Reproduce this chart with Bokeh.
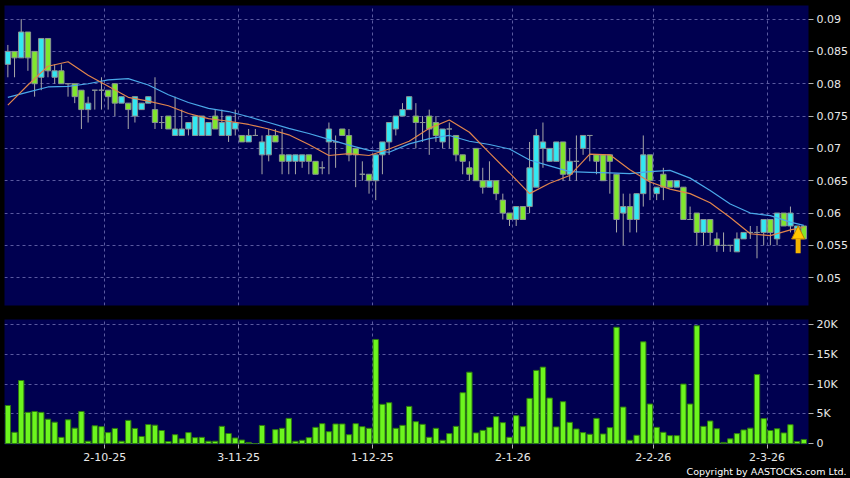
from bokeh.plotting import figure
from bokeh.layouts import column
from bokeh.models import ColumnDataSource, FixedTicker, Range1d, Title, Arrow, NormalHead
from bokeh.embed import file_html
from bokeh.resources import INLINE

# ---------------- data ----------------
tick_candles = [15, 35, 55, 76, 97, 114]
tick_labels = ["2-10-25", "3-11-25", "1-12-25", "2-1-26", "2-2-26", "2-3-26"]

opens = [0.083, 0.085, 0.084, 0.088, 0.085, 0.081, 0.087, 0.081, 0.082, 0.080,
         0.080, 0.079, 0.076, 0.079, 0.079, 0.079, 0.080, 0.077, 0.077, 0.075,
         0.076, 0.077, 0.076, 0.074, 0.075, 0.072, 0.072, 0.073, 0.072, 0.072,
         0.072, 0.075, 0.072, 0.072, 0.073, 0.072, 0.071, 0.072, 0.069, 0.069,
         0.072, 0.069, 0.068, 0.068, 0.068, 0.069, 0.068, 0.067, 0.071, 0.071,
         0.073, 0.072, 0.070, 0.066, 0.066, 0.065, 0.069, 0.071, 0.073, 0.075,
         0.076, 0.075, 0.074, 0.075, 0.074, 0.071, 0.073, 0.072, 0.069, 0.067,
         0.070, 0.065, 0.064, 0.065, 0.062, 0.060, 0.059, 0.061, 0.061, 0.064,
         0.070, 0.068, 0.068, 0.071, 0.066, 0.068, 0.070, 0.072, 0.069, 0.069,
         0.069, 0.066, 0.060, 0.061, 0.059, 0.063, 0.069, 0.063, 0.066, 0.065,
         0.064, 0.064, 0.059, 0.060, 0.057, 0.059, 0.056, 0.055, 0.055, 0.054,
         0.056, 0.057, 0.057, 0.057, 0.059, 0.056, 0.060, 0.058, 0.057, 0.058]

highs = [0.086, 0.085, 0.090, 0.088, 0.085, 0.087, 0.087, 0.083, 0.083, 0.080,
         0.080, 0.079, 0.078, 0.079, 0.081, 0.079, 0.080, 0.078, 0.077, 0.078,
         0.077, 0.078, 0.081, 0.075, 0.075, 0.078, 0.076, 0.074, 0.075, 0.075,
         0.074, 0.076, 0.076, 0.075, 0.076, 0.072, 0.073, 0.073, 0.072, 0.073,
         0.073, 0.073, 0.069, 0.069, 0.069, 0.069, 0.068, 0.068, 0.074, 0.072,
         0.073, 0.073, 0.070, 0.068, 0.066, 0.069, 0.071, 0.074, 0.075, 0.077,
         0.078, 0.077, 0.075, 0.076, 0.075, 0.073, 0.074, 0.072, 0.069, 0.068,
         0.070, 0.067, 0.068, 0.065, 0.063, 0.060, 0.061, 0.061, 0.071, 0.073,
         0.074, 0.070, 0.071, 0.071, 0.070, 0.072, 0.072, 0.072, 0.069, 0.069,
         0.069, 0.066, 0.063, 0.063, 0.063, 0.072, 0.069, 0.064, 0.067, 0.065,
         0.065, 0.064, 0.061, 0.060, 0.059, 0.059, 0.057, 0.057, 0.055, 0.057,
         0.057, 0.058, 0.058, 0.059, 0.059, 0.060, 0.060, 0.061, 0.058, 0.058]

lows = [0.081, 0.081, 0.084, 0.082, 0.078, 0.079, 0.081, 0.080, 0.080, 0.078,
        0.077, 0.073, 0.074, 0.076, 0.076, 0.076, 0.075, 0.077, 0.073, 0.074,
        0.076, 0.077, 0.073, 0.073, 0.073, 0.072, 0.072, 0.072, 0.072, 0.072,
        0.072, 0.073, 0.072, 0.071, 0.072, 0.071, 0.071, 0.072, 0.066, 0.068,
        0.071, 0.066, 0.066, 0.066, 0.067, 0.066, 0.066, 0.066, 0.066, 0.067,
        0.072, 0.068, 0.064, 0.065, 0.063, 0.062, 0.066, 0.069, 0.072, 0.075,
        0.076, 0.070, 0.071, 0.069, 0.071, 0.070, 0.070, 0.068, 0.066, 0.065,
        0.065, 0.063, 0.064, 0.062, 0.059, 0.058, 0.058, 0.059, 0.060, 0.064,
        0.067, 0.068, 0.068, 0.065, 0.065, 0.065, 0.069, 0.068, 0.066, 0.065,
        0.063, 0.057, 0.055, 0.057, 0.057, 0.061, 0.062, 0.062, 0.062, 0.064,
        0.064, 0.059, 0.059, 0.055, 0.055, 0.055, 0.054, 0.054, 0.054, 0.054,
        0.056, 0.056, 0.053, 0.055, 0.055, 0.055, 0.058, 0.057, 0.057, 0.056]

closes = [0.085, 0.084, 0.088, 0.084, 0.080, 0.087, 0.082, 0.082, 0.080, 0.080,
          0.078, 0.076, 0.077, 0.079, 0.079, 0.078, 0.077, 0.078, 0.076, 0.078,
          0.077, 0.078, 0.074, 0.074, 0.073, 0.073, 0.073, 0.074, 0.075, 0.075,
          0.074, 0.073, 0.074, 0.075, 0.074, 0.071, 0.072, 0.072, 0.071, 0.072,
          0.071, 0.068, 0.069, 0.069, 0.069, 0.068, 0.066, 0.067, 0.073, 0.071,
          0.072, 0.069, 0.069, 0.066, 0.065, 0.069, 0.071, 0.074, 0.075, 0.076,
          0.078, 0.074, 0.074, 0.073, 0.072, 0.073, 0.073, 0.069, 0.068, 0.066,
          0.065, 0.064, 0.065, 0.063, 0.060, 0.059, 0.061, 0.059, 0.067, 0.072,
          0.071, 0.070, 0.071, 0.066, 0.068, 0.068, 0.072, 0.072, 0.068, 0.065,
          0.068, 0.059, 0.061, 0.059, 0.063, 0.069, 0.065, 0.064, 0.064, 0.064,
          0.065, 0.059, 0.059, 0.057, 0.059, 0.057, 0.055, 0.055, 0.055, 0.056,
          0.057, 0.057, 0.057, 0.059, 0.057, 0.060, 0.058, 0.060, 0.058, 0.056]

volumes = [6400, 1900, 10600, 5250, 5400, 5250, 4100, 3600, 1050, 4000,
           2600, 5400, 400, 3000, 2850, 1850, 2550, 400, 3900, 2550,
           1200, 3200, 3100, 2200, 350, 1500, 800, 1850, 1000, 1050,
           400, 400, 2900, 1700, 950, 600, 200, 0, 3050, 0,
           2350, 2570, 4240, 390, 560, 1000, 2730, 3350, 2000, 3300,
           3300, 1500, 3350, 2850, 2570, 17500, 6600, 6870, 2570, 3070,
           6250, 3680, 3240, 1060, 2570, 560, 1680, 2900, 8550, 12000,
           1800, 2230, 2730, 4520, 3520, 1060, 4690, 2850, 7600, 12300,
           12850, 7650, 2800, 7040, 3570, 2460, 1850, 1570, 4240, 1620,
           2680, 19550, 6140, 560, 1400, 17100, 6650, 2730, 1900, 1340,
           1340, 10000, 6650, 19800, 2900, 3800, 2500, 200, 800, 1680,
           2300, 2600, 11600, 4200, 2200, 2500, 1800, 3180, 350, 700]

ma_idx = [0, 3, 6, 9, 12, 15, 18, 21, 24, 27, 30, 33, 36, 39, 42, 45, 48, 51, 54, 57,
          60, 63, 66, 69, 72, 75, 78, 81, 84, 87, 90, 93, 96, 99, 102, 105, 108, 111,
          114, 117, 119]
ma_short = [0.0767, 0.0798, 0.0827, 0.0834, 0.0813, 0.0796, 0.0779, 0.0773, 0.0766, 0.0754,
            0.0746, 0.0742, 0.0737, 0.0730, 0.0721, 0.0706, 0.0689, 0.0692, 0.0689, 0.0699,
            0.0711, 0.0731, 0.0744, 0.0725, 0.0693, 0.0662, 0.0630, 0.0646, 0.0658, 0.0691,
            0.0690, 0.0667, 0.0648, 0.0637, 0.0630, 0.0616, 0.0593, 0.0568, 0.0565, 0.0574,
            0.0578]
ma_long = [0.0779, 0.0787, 0.0795, 0.0796, 0.0800, 0.0806, 0.0808, 0.0798, 0.0783, 0.0771,
           0.0762, 0.0757, 0.0749, 0.0740, 0.0731, 0.0723, 0.0714, 0.0705, 0.0697, 0.0694,
           0.0707, 0.0715, 0.0720, 0.0711, 0.0706, 0.0699, 0.0682, 0.0673, 0.0664, 0.0663,
           0.0662, 0.0661, 0.0664, 0.0666, 0.0654, 0.0635, 0.0614, 0.0600, 0.0596, 0.0586,
           0.0581]

price_ticks = [0.05, 0.055, 0.06, 0.065, 0.07, 0.075, 0.08, 0.085, 0.09]
price_tick_labels = ["0.05", "0.055", "0.06", "0.065", "0.07", "0.075", "0.08", "0.085", "0.09"]
vol_ticks = [0, 5000, 10000, 15000, 20000]
vol_tick_labels = ["0", "5K", "10K", "15K", "20K"]

# ---------------- styling ----------------
BG = "#000000"
PANEL = "#000050"
GRID = "#6464A8"
UP = "#33E8F2"
DOWN = "#80E62E"
VOL = "#6CF51E"
TXT = "#E8E8E8"
FONT = "DejaVu Sans"

n = len(closes)
xs = list(range(n))
xtick_pos = [c - 0.5 for c in tick_candles]

body_top = [max(o, c) for o, c in zip(opens, closes)]
body_bot = [min(o, c) for o, c in zip(opens, closes)]
body_col = [UP if c > o else (DOWN if c < o else "#B0B0B0") for o, c in zip(opens, closes)]

src = ColumnDataSource(dict(x=xs, top=body_top, bot=body_bot, hi=highs, lo=lows,
                            col=body_col, vol=volumes))

x_rng = Range1d(-0.5, n - 0.3)


def style(p):
    p.background_fill_color = PANEL
    p.border_fill_color = BG
    p.outline_line_color = None
    p.min_border_left = 4
    p.min_border_right = 42
    for g in (p.xgrid, p.ygrid):
        g.grid_line_color = GRID
        g.grid_line_dash = "3 3"
        g.grid_line_width = 1
        g.grid_line_alpha = 0.9
    ax = p.yaxis[0]
    ax.axis_line_color = None
    ax.major_tick_line_color = "#B0B0B0"
    ax.major_tick_out = 5
    ax.major_tick_in = 0
    ax.minor_tick_line_color = None
    ax.major_label_text_color = TXT
    ax.major_label_text_font = FONT
    ax.major_label_text_font_size = "11px"
    ax.major_label_standoff = 3


# ---------------- price panel ----------------
p1 = figure(frame_width=804, frame_height=300, x_range=x_rng,
            y_range=Range1d(0.0457, 0.0921), y_axis_location="right",
            toolbar_location=None, output_backend="svg")
style(p1)
p1.min_border_top = 5
p1.min_border_bottom = 8
p1.xaxis.visible = False
p1.xgrid.ticker = FixedTicker(ticks=xtick_pos)
p1.ygrid.ticker = FixedTicker(ticks=price_ticks)
p1.yaxis.ticker = FixedTicker(ticks=price_ticks)
p1.yaxis.major_label_overrides = dict(zip(price_ticks, price_tick_labels))

p1.segment(x0="x", y0="lo", x1="x", y1="hi", source=src, line_color="#A8A8A8", line_width=1)
p1.vbar(x="x", width=0.8, top="top", bottom="bot", source=src,
        fill_color="col", line_color="#8A9494", line_width=1)
p1.line(ma_idx, ma_long, line_color="#4AA8E8", line_width=1.2)
p1.line(ma_idx, ma_short, line_color="#E0844C", line_width=1.2)

# marker arrow under the latest candles
ax_x = xs[-2] + 0.15
p1.add_layout(Arrow(end=NormalHead(size=13, fill_color="#FFC800", line_color="#C08000"),
                    x_start=ax_x, y_start=lows[-1] - 0.0022,
                    x_end=ax_x, y_end=closes[-2],
                    line_color="#F5B400", line_width=5))

# ---------------- volume panel ----------------
p2 = figure(frame_width=804, frame_height=125, x_range=x_rng,
            y_range=Range1d(-150, 20850), y_axis_location="right",
            toolbar_location=None, output_backend="svg")
style(p2)
p2.min_border_top = 6
p2.min_border_bottom = 34
p2.xgrid.ticker = FixedTicker(ticks=xtick_pos)
p2.ygrid.ticker = FixedTicker(ticks=vol_ticks)
p2.yaxis.ticker = FixedTicker(ticks=vol_ticks)
p2.yaxis.major_label_overrides = dict(zip(vol_ticks, vol_tick_labels))
xa = p2.xaxis[0]
xa.ticker = FixedTicker(ticks=xtick_pos)
xa.major_label_overrides = dict(zip(xtick_pos, tick_labels))
xa.axis_line_color = None
xa.major_tick_line_color = "#B0B0B0"
xa.major_tick_out = 4
xa.major_tick_in = 0
xa.minor_tick_line_color = None
xa.major_label_text_color = TXT
xa.major_label_text_font = FONT
xa.major_label_text_font_size = "11px"
xa.major_label_standoff = 4

p2.vbar(x="x", width=0.8, top="vol", bottom=0, source=src,
        fill_color=VOL, line_color="#2E7A10", line_width=1)

p2.add_layout(Title(text="Copyright by AASTOCKS.com Ltd.", align="right",
                    text_color="#FFFFFF", text_font=FONT, text_font_size="9.5px",
                    text_font_style="normal", offset=-38, standoff=0), "below")

layout = column(p1, p2, spacing=0, styles={"background-color": BG})

open("out.html", "w").write(file_html(layout, INLINE))
